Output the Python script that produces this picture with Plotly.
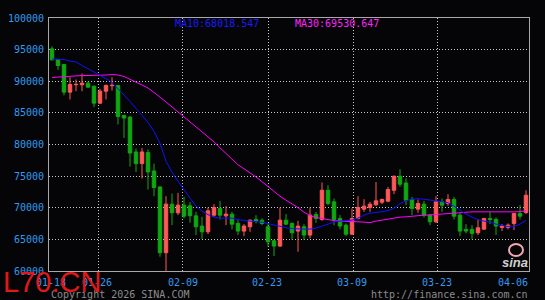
import plotly.graph_objects as go

# ---- data ----
opens = [95120, 93430, 92640, 88280, 89450, 89440, 89700, 89220, 86540, 88430,
         89300, 89330, 84600, 84330, 78820, 76980, 78720, 75820, 73290, 62890,
         70570, 69200, 70410, 70300, 68720, 67100, 66200, 68830, 69890, 68720,
         68990, 67520, 66310, 66990, 68150, 68040, 66990, 64780, 63940, 68040,
         67520, 66310, 66990, 65680, 68940, 68150, 72770, 70930, 68310, 67250,
         65830, 68310, 69780, 70040, 70460, 70880, 71040, 72770, 74980, 73920,
         71310, 69780, 70570, 68830, 67780, 70930, 70670, 71310, 68830, 66580,
         66580, 66040, 66620, 68310, 68150, 66890, 66890, 67520, 69100, 69250]
highs = [95530, 93500, 92700, 90640, 90280, 91220, 89960, 89300, 88810, 89500,
         90640, 89400, 84700, 84500, 79350, 79450, 79240, 76980, 73400, 71830,
         72250, 72350, 71720, 70900, 69350, 68560, 70040, 70570, 71090, 70250,
         69350, 68040, 67410, 68150, 68830, 68310, 67620, 65000, 70040, 69000,
         67700, 67930, 67410, 70040, 69350, 73990, 73560, 71460, 68830, 67520,
         69890, 71830, 71350, 70930, 74080, 71460, 73290, 75100, 76090, 74670,
         71720, 71310, 71090, 69040, 71830, 71460, 72140, 71720, 69200, 67410,
         67250, 68150, 68400, 69350, 68470, 67410, 67520, 69200, 70410, 72770]
lows = [93300, 91800, 87760, 87120, 88430, 88430, 89000, 85910, 86400, 87120,
        88540, 83180, 81030, 76500, 75660, 74620, 72880, 71830, 62260, 59900,
        67250, 68830, 68310, 67620, 65680, 65050, 65830, 68560, 68150, 67250,
        66580, 65680, 65520, 66200, 67520, 67250, 63830, 62370, 63830, 67250,
        64890, 63040, 64890, 65160, 67620, 67930, 70410, 67250, 66580, 65520,
        65680, 68150, 69350, 69350, 70300, 70570, 70880, 72140, 73290, 70410,
        68830, 69200, 68470, 67250, 67600, 69350, 70300, 68150, 65520, 65950,
        65000, 65680, 66470, 67410, 65680, 66310, 66580, 66470, 68150, 69000]
closes = [93385, 92490, 88280, 89490, 89500, 89700, 89070, 86540, 88430, 89330,
          89350, 84440, 84180, 78650, 76980, 78820, 75660, 73200, 62890, 70570,
          69200, 70410, 68670, 68750, 66990, 66200, 69510, 70040, 68830, 68990,
          67410, 66310, 67100, 68040, 67880, 67520, 64620, 63940, 68040, 67410,
          66040, 67100, 65680, 68830, 68310, 72770, 70680, 68150, 67100, 65830,
          68310, 70040, 70250, 70570, 71090, 71310, 72880, 74980, 73720, 71200,
          69890, 70680, 68830, 67780, 70930, 70410, 71310, 68670, 66310, 66310,
          65950, 66830, 68310, 68150, 67100, 67100, 67250, 69100, 68670, 71980]
ma10 = [93511, 93511, 93432, 93196, 93038, 92486, 92013, 91461, 90909, 90436,
        89805, 88859, 87913, 86809, 85705, 84601, 83497, 82078, 80186, 77347,
        75612, 74193, 72774, 71512, 70251, 69462, 68910, 68516, 68358, 68358,
        68358, 68122, 67964, 67885, 67806, 67727, 67491, 67254, 67018, 66860,
        66702, 66623, 66623, 66623, 66781, 67097, 67412, 67727, 67885, 67964,
        68043, 68358, 68831, 69147, 69225, 69383, 69541, 69935, 70645, 71118,
        71354, 71433, 71354, 71197, 71118, 70960, 70802, 70251, 69620, 68989,
        68516, 68122, 67885, 67727, 67412, 67175, 67018, 67018, 67412, 68018]
ma30 = [90594, 90673, 90752, 90830, 90862, 90909, 90909, 90909, 90909, 90988,
        91067, 90988, 90752, 90357, 89853, 89411, 88938, 88228, 87519, 86730,
        85942, 85153, 84365, 83655, 82867, 82078, 81290, 80422, 79476, 78561,
        77662, 76795, 76164, 75533, 74871, 74114, 73326, 72537, 71828, 71197,
        70645, 70014, 69304, 68752, 68468, 68279, 68090, 67964, 67885, 67885,
        67806, 67775, 67727, 67648, 67885, 68043, 68200, 68405, 68516, 68563,
        68674, 68784, 68831, 68863, 68942, 68989, 69099, 69225, 69304, 69352,
        69352, 69352, 69352, 69352, 69304, 69257, 69304, 69352, 69383, 69530]
x_labels = ["01-18", "01-26", "02-09", "02-23", "03-09", "03-23", "04-06"]
y_ticks = [60000, 65000, 70000, 75000, 80000, 85000, 90000, 95000, 100000]
ma10_last = "68018.547"
ma30_last = "69530.647"

# ---- layout helpers (pixel geometry) ----
W, H = 545, 300
L, R, T, B = 49, 529, 18, 271
def px(xp):
    return (xp - L) / (R - L)
def py(yp):
    return (B - yp) / (B - T)

xidx = list(range(len(opens)))
label_pos = [-0.17, 7.5, 21.75, 35.83, 50.0, 64.17, 76.83]
grid_pos = [7.67, 21.83, 36.0, 50.17, 64.33]

UP = "#ff5858"
DOWN = "#10a810"
AXC = "#3399ee"
MONO = "DejaVu Sans Mono"
GRIDC = "#c8c8c8"
DOTS = "1px,2px"

fig = go.Figure()
fig.add_trace(go.Candlestick(
    x=xidx, open=opens, high=highs, low=lows, close=closes,
    increasing=dict(line=dict(color=UP, width=1), fillcolor=UP),
    decreasing=dict(line=dict(color=DOWN, width=1), fillcolor=DOWN),
    whiskerwidth=0, showlegend=False, hoverinfo="skip"))
fig.add_trace(go.Scatter(x=xidx, y=ma30, mode="lines",
                         line=dict(color="#ff00ff", width=1), showlegend=False, hoverinfo="skip"))
fig.add_trace(go.Scatter(x=xidx, y=ma10, mode="lines",
                         line=dict(color="#1010ff", width=1), showlegend=False, hoverinfo="skip"))

ann = []
for lab, pos in zip(x_labels, label_pos):
    ann.append(dict(x=pos, y=py(282), xref="x", yref="paper", text=lab, showarrow=False,
                    xanchor="center", yanchor="middle",
                    font=dict(family=MONO, size=10, color=AXC)))
ann.append(dict(x=px(216.5), y=py(23.3), xref="paper", yref="paper", text="MA10:" + ma10_last,
                showarrow=False, xanchor="center", yanchor="middle",
                font=dict(family=MONO, size=10, color="#1a1aff")))
ann.append(dict(x=px(336.5), y=py(23.3), xref="paper", yref="paper", text="MA30:" + ma30_last,
                showarrow=False, xanchor="center", yanchor="middle",
                font=dict(family=MONO, size=10, color="#ff22ff")))
ann.append(dict(x=px(49), y=py(294), xref="paper", yref="paper", text="Copyright 2026 SINA.COM",
                showarrow=False, xanchor="left", yanchor="middle",
                font=dict(family=MONO, size=10, color="#8c8c8c")))
ann.append(dict(x=px(530), y=py(294), xref="paper", yref="paper", text="http://finance.sina.com.cn",
                showarrow=False, xanchor="right", yanchor="middle",
                font=dict(family=MONO, size=10, color="#8c8c8c")))
ann.append(dict(x=px(52), y=py(282), xref="paper", yref="paper", text="L70.CN",
                showarrow=False, xanchor="center", yanchor="middle",
                font=dict(family="Liberation Sans", size=29, color="#e01818")))
ann.append(dict(x=px(515), y=py(262), xref="paper", yref="paper", text="<b><i>sina</i></b>",
                showarrow=False, xanchor="center", yanchor="middle",
                font=dict(family="Liberation Sans", size=13, color="#d0d0d0")))

shapes = [dict(type="circle", xref="paper", yref="paper",
               x0=px(509), x1=px(523), y0=py(256), y1=py(244),
               line=dict(color="#f2a6b4", width=2))]

fig.update_layout(
    width=W, height=H,
    margin=dict(l=L, r=W - R, t=T, b=H - B, pad=0, autoexpand=False),
    paper_bgcolor="#050507", plot_bgcolor="#050507",
    boxgap=0.17,
    annotations=ann, shapes=shapes,
    xaxis=dict(range=[-0.5, 79.5], tickvals=grid_pos, showticklabels=False,
               showgrid=True, gridcolor=GRIDC, griddash=DOTS, gridwidth=1,
               zeroline=False, showline=True, linecolor="#a8a8a8", linewidth=1, mirror=True,
               rangeslider=dict(visible=False), ticks="", fixedrange=True, automargin=False),
    yaxis=dict(range=[60000, 100000], tickvals=y_ticks, ticktext=[str(v) for v in y_ticks],
               showgrid=True, gridcolor=GRIDC, griddash=DOTS, gridwidth=1,
               zeroline=False, showline=True, linecolor="#a8a8a8", linewidth=1, mirror=True,
               ticks="", ticklabelstandoff=2, automargin=False,
               tickfont=dict(family=MONO, size=10, color=AXC), fixedrange=True),
)

fig.write_html("out.html", config={"displayModeBar": False})
